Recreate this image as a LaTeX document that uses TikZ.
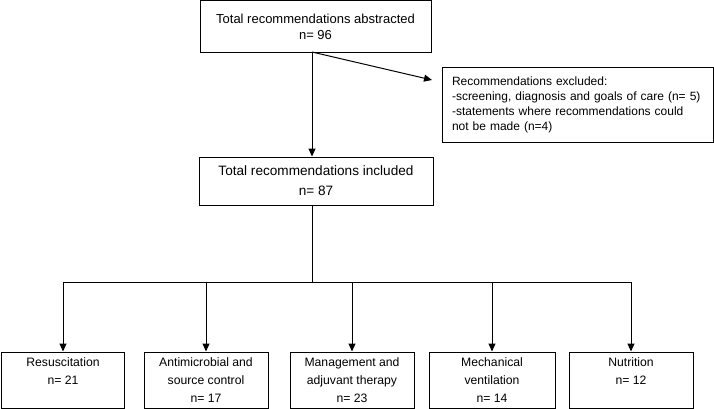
\documentclass[tikz,border=0pt]{standalone}
\usepackage{fontspec}
\setmainfont{Liberation Sans}
\usetikzlibrary{arrows.meta}

\begin{document}
\begin{tikzpicture}[x=1pt, y=-1pt]
    \tikzset{box/.style={draw, line width=1pt, rectangle,
            align=center, inner sep=0pt},
        arr/.style={line width=1pt,
            -{Triangle[length=8pt, width=7pt]}}
    }
    \useasboundingbox (0,0) rectangle (714,409);
    \node [box, minimum width=231, minimum height=52,
        font=\fontsize{13}{16}\selectfont](abst)
        at (315.5,26.5) {Total recommendations abstracted\\n= 96};
    \node [box, minimum width=234, minimum height=48,
        font=\fontsize{13.6}{20}\selectfont](incl)
        at (316,181) {Total recommendations included\\n= 87};
    \node [box, minimum width=271, minimum height=74, align=left,
        text width=251, inner xsep=10,
        font=\fontsize{12}{15}\selectfont](excl)
        at (577.5,105) {Recommendations excluded:\\
        -screening, diagnosis and goals of care (n= 5)\\
        -statements where recommendations could\\
        not be made (n=4)\\[3pt]};
    \coordinate (split) at (312,282);
    \coordinate (exclin) at (432,80);
    % flow down the middle
    \draw [arr] (abst.south -| split) -- (incl.north -| split);
    \draw [arr] ([yshift=1pt]abst.south -| split) -- (exclin);
    \draw [line width=1pt] (incl.south -| split) -- (split);
    % bottom boxes
    \foreach \name/\xc/\bw/\label in
        {res/63/123/{Resuscitation\\n= 21\\\mbox{}},
         anti/206/124/{Antimicrobial and\\source control\\n= 17},
         mgmt/352/124/{Management and\\adjuvant therapy\\n= 23},
         mech/492/126/{Mechanical\\ventilation\\n= 14},
         nutr/631/124/{Nutrition\\n= 12\\\mbox{}}} {
        \node [box, minimum width=\bw, minimum height=56,
            font=\fontsize{12.2}{18}\selectfont](\name)
            at (\xc,380) {\label};
        \draw [arr] (split) -| (\name.north);
    }
\end{tikzpicture}
\end{document}
